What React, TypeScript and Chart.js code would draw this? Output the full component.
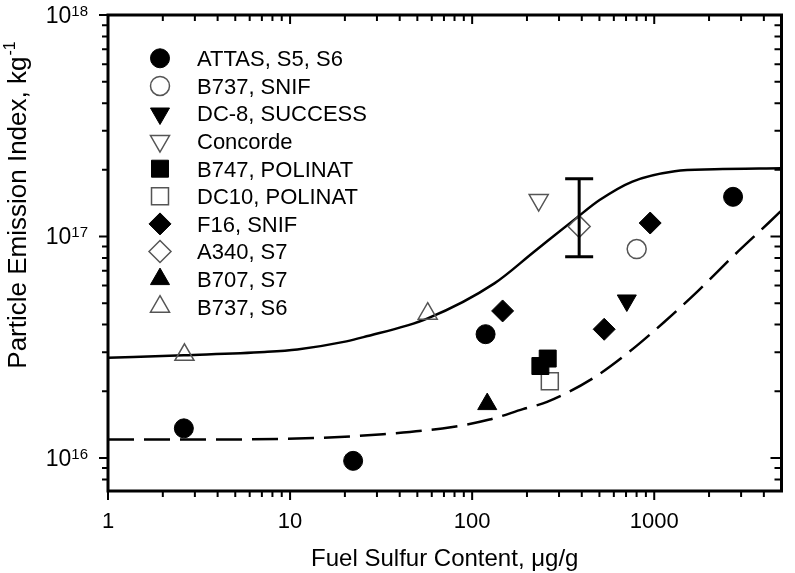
import React, { useEffect, useRef } from 'react';
import { Chart, registerables } from 'chart.js';

Chart.register(...registerables);

// ---------------- data ----------------
const attasX = [2.61, 22.2, 118.5, 2710];
const attasY = [1.36e16, 9.7e15, 3.62e16, 1.51e17];
const b737SnifX = [801];
const b737SnifY = [8.77e16];
const dc8X = [707];
const dc8Y = [5.14e16];
const concordeX = [232];
const concordeY = [1.46e17];
const b747X = [237, 260];
const b747Y = [2.6e16, 2.81e16];
const dc10X = [267];
const dc10Y = [2.22e16];
const f16X = [147, 531, 950];
const f16Y = [4.61e16, 3.81e16, 1.15e17];
const a340X = [387];
const a340Y = [1.11e17];
const a340ErrLow = [8.1e16];
const a340ErrHigh = [1.82e17];
const b707X = [121];
const b707Y = [1.75e16];
const b737S6X = [2.63, 57];
const b737S6Y = [2.92e16, 4.48e16];

const upperCurveX = [1, 2.61, 7.25, 10.96, 20.4, 25.3, 57, 132.5, 218, 373, 501, 759, 1296, 2143, 5000];
const upperCurveY = [2.83e16, 2.91e16, 3.01e16, 3.09e16, 3.36e16, 3.51e16, 4.27e16, 6.14e16, 8.51e16, 1.21e17, 1.46e17, 1.77e17, 1.97e17, 2.01e17, 2.03e17];
const lowerCurveX = [1, 3, 13.5, 32.4, 78, 124.5, 190, 258, 461, 728, 1127, 1742, 2754, 4240, 5000];
const lowerCurveY = [1.21e16, 1.21e16, 1.23e16, 1.28e16, 1.38e16, 1.49e16, 1.66e16, 1.79e16, 2.29e16, 3.01e16, 4.09e16, 5.68e16, 8.24e16, 1.15e17, 1.31e17];

const seriesLabels = [
  'ATTAS, S5, S6',
  'B737, SNIF',
  'DC-8, SUCCESS',
  'Concorde',
  'B747, POLINAT',
  'DC10, POLINAT',
  'F16, SNIF',
  'A340, S7',
  'B707, S7',
  'B737, S6',
];
const seriesXs = [attasX, b737SnifX, dc8X, concordeX, b747X, dc10X, f16X, a340X, b707X, b737S6X];
const seriesYs = [attasY, b737SnifY, dc8Y, concordeY, b747Y, dc10Y, f16Y, a340Y, b707Y, b737S6Y];

const xTickValues = [1, 10, 100, 1000];
const xTickLabels = ['1', '10', '100', '1000'];
const yTickValues = [1e16, 1e17, 1e18];
const yTickBase = '10';
const yTickExponents = ['16', '17', '18'];
const xTitle = 'Fuel Sulfur Content, \u03bcg/g';
const yTitleMain = 'Particle Emission Index, kg';
const yTitleSup = '-1';

const X_MIN = 1;
const X_MAX = 5000;
const Y_MIN = 7.09e15;
const Y_MAX = 1e18;

// ---------------- styles ----------------
const FONT = "'Liberation Sans', Arial, Helvetica, sans-serif";
const OPEN_COLOR = '#555555';

type Mk = { style: 'circle' | 'triangle' | 'rect' | 'rectRot'; rot: number; filled: boolean; r: number };
const markerStyles: Mk[] = [
  { style: 'circle', rot: 0, filled: true, r: 9.5 },
  { style: 'circle', rot: 0, filled: false, r: 9.5 },
  { style: 'triangle', rot: 180, filled: true, r: 11 },
  { style: 'triangle', rot: 180, filled: false, r: 11 },
  { style: 'rect', rot: 0, filled: true, r: 12 },
  { style: 'rect', rot: 0, filled: false, r: 12 },
  { style: 'rectRot', rot: 0, filled: true, r: 11 },
  { style: 'rectRot', rot: 0, filled: false, r: 11 },
  { style: 'triangle', rot: 0, filled: true, r: 11 },
  { style: 'triangle', rot: 0, filled: false, r: 11 },
];

function drawMarker(ctx: CanvasRenderingContext2D, m: Mk, x: number, y: number) {
  const r = m.r;
  let rad = (m.rot * Math.PI) / 180;
  ctx.beginPath();
  if (m.style === 'circle') {
    ctx.arc(x, y, r, 0, Math.PI * 2);
  } else if (m.style === 'triangle') {
    ctx.moveTo(x + Math.sin(rad) * r, y - Math.cos(rad) * r);
    rad += (2 * Math.PI) / 3;
    ctx.lineTo(x + Math.sin(rad) * r, y - Math.cos(rad) * r);
    rad += (2 * Math.PI) / 3;
    ctx.lineTo(x + Math.sin(rad) * r, y - Math.cos(rad) * r);
  } else if (m.style === 'rect') {
    const s = r * Math.SQRT1_2;
    ctx.rect(x - s, y - s, 2 * s, 2 * s);
  } else {
    ctx.moveTo(x - r, y);
    ctx.lineTo(x, y - r);
    ctx.lineTo(x + r, y);
    ctx.lineTo(x, y + r);
  }
  ctx.closePath();
  if (m.filled) {
    ctx.fillStyle = '#000';
    ctx.fill();
    ctx.strokeStyle = '#000';
    ctx.lineWidth = 1;
    ctx.stroke();
  } else {
    ctx.strokeStyle = OPEN_COLOR;
    ctx.lineWidth = 1.5;
    ctx.stroke();
  }
}

function minorTicks(min: number, max: number): number[] {
  const out: number[] = [];
  const d0 = Math.floor(Math.log10(min));
  const d1 = Math.ceil(Math.log10(max));
  for (let d = d0; d <= d1; d++) {
    for (let k = 2; k <= 9; k++) {
      const v = k * Math.pow(10, d);
      if (v > min * 1.0001 && v < max * 0.9999) out.push(v);
    }
  }
  return out;
}

const decoPlugin = {
  id: 'deco',
  afterDatasetsDraw(chart: any) {
    const { ctx, scales } = chart;
    const xs = scales.x;
    const ys = scales.y;
    ctx.save();
    // error bar
    ctx.strokeStyle = '#000';
    ctx.lineWidth = 3;
    for (let i = 0; i < a340X.length; i++) {
      const px = xs.getPixelForValue(a340X[i]);
      const pt = ys.getPixelForValue(a340ErrHigh[i]);
      const pb = ys.getPixelForValue(a340ErrLow[i]);
      ctx.beginPath();
      ctx.moveTo(px, pt);
      ctx.lineTo(px, pb);
      ctx.moveTo(px - 14, pt);
      ctx.lineTo(px + 14, pt);
      ctx.moveTo(px - 14, pb);
      ctx.lineTo(px + 14, pb);
      ctx.stroke();
    }
    ctx.restore();
  },
  afterDraw(chart: any) {
    const { ctx, chartArea: a, scales } = chart;
    const xs = scales.x;
    const ys = scales.y;
    ctx.save();
    ctx.strokeStyle = '#000';
    ctx.lineCap = 'butt';

    // ticks
    ctx.lineWidth = 2;
    ctx.beginPath();
    const xMinor = minorTicks(X_MIN, X_MAX);
    for (const v of xMinor) {
      const px = xs.getPixelForValue(v);
      ctx.moveTo(px, a.bottom);
      ctx.lineTo(px, a.bottom + 6);
      ctx.moveTo(px, a.top);
      ctx.lineTo(px, a.top + 6);
    }
    for (const v of xTickValues) {
      const px = xs.getPixelForValue(v);
      ctx.moveTo(px, a.bottom);
      ctx.lineTo(px, a.bottom + 9);
      ctx.moveTo(px, a.top);
      ctx.lineTo(px, a.top + 9);
    }
    const yMinor = minorTicks(Y_MIN, Y_MAX);
    for (const v of yMinor) {
      const py = ys.getPixelForValue(v);
      ctx.moveTo(a.left, py);
      ctx.lineTo(a.left - 6, py);
      ctx.moveTo(a.right, py);
      ctx.lineTo(a.right - 7, py);
    }
    for (const v of yTickValues) {
      const py = ys.getPixelForValue(v);
      ctx.moveTo(a.left, py);
      ctx.lineTo(a.left - 9, py);
      ctx.moveTo(a.right, py);
      ctx.lineTo(a.right - 11, py);
    }
    ctx.stroke();

    // frame
    ctx.lineWidth = 3;
    ctx.strokeRect(a.left, a.top, a.right - a.left, a.bottom - a.top);

    // x tick labels
    ctx.fillStyle = '#000';
    ctx.font = `22px ${FONT}`;
    ctx.textAlign = 'center';
    ctx.textBaseline = 'alphabetic';
    xTickValues.forEach((v, i) => {
      ctx.fillText(xTickLabels[i], xs.getPixelForValue(v), a.bottom + 37);
    });

    // y tick labels with superscript
    yTickValues.forEach((v, i) => {
      const py = ys.getPixelForValue(v);
      ctx.textAlign = 'right';
      ctx.font = `15px ${FONT}`;
      const supW = ctx.measureText(yTickExponents[i]).width;
      ctx.fillText(yTickExponents[i], 88, py + 0.6);
      ctx.font = `23px ${FONT}`;
      ctx.fillText(yTickBase, 88 - supW, py + 8);
    });

    // x title
    ctx.font = `24px ${FONT}`;
    ctx.textAlign = 'center';
    ctx.fillText(xTitle, (a.left + a.right) / 2, 566);

    // y title
    ctx.save();
    ctx.translate(26, 205);
    ctx.rotate(-Math.PI / 2);
    ctx.font = `26px ${FONT}`;
    const w1 = ctx.measureText(yTitleMain).width;
    ctx.font = `16px ${FONT}`;
    const w2 = ctx.measureText(yTitleSup).width;
    const start = -(w1 + w2 + 1) / 2;
    ctx.textAlign = 'left';
    ctx.font = `26px ${FONT}`;
    ctx.fillText(yTitleMain, start, 0);
    ctx.font = `16px ${FONT}`;
    ctx.fillText(yTitleSup, start + w1 + 1, -11);
    ctx.restore();

    // legend
    ctx.font = `22px ${FONT}`;
    ctx.textAlign = 'left';
    seriesLabels.forEach((lab, i) => {
      const cy = 58.3 + i * 27.6;
      drawMarker(ctx, markerStyles[i], 160, cy);
      ctx.fillStyle = '#000';
      ctx.fillText(lab, 197, cy + 7.9);
    });

    ctx.restore();
  },
};

export default function App() {
  const ref = useRef<HTMLCanvasElement | null>(null);

  useEffect(() => {
    document.body.style.margin = '0';
    const canvas = ref.current;
    if (!canvas) return;

    const curveDatasets: any[] = [
      {
        type: 'line',
        label: 'upper',
        data: upperCurveX.map((x, i) => ({ x, y: upperCurveY[i] })),
        borderColor: '#000',
        borderWidth: 2.5,
        pointRadius: 0,
        fill: false,
        cubicInterpolationMode: 'monotone',
        order: 5,
      },
      {
        type: 'line',
        label: 'lower',
        data: lowerCurveX.map((x, i) => ({ x, y: lowerCurveY[i] })),
        borderColor: '#000',
        borderWidth: 2.5,
        borderDash: [26, 10],
        pointRadius: 0,
        fill: false,
        cubicInterpolationMode: 'monotone',
        order: 5,
      },
    ];

    const pointDatasets: any[] = seriesLabels.map((lab, i) => {
      const m = markerStyles[i];
      return {
        type: 'scatter',
        label: lab,
        data: seriesXs[i].map((x, j) => ({ x, y: seriesYs[i][j] })),
        pointStyle: m.style,
        pointRotation: m.rot,
        pointRadius: m.r,
        pointHoverRadius: m.r,
        backgroundColor: m.filled ? '#000' : 'rgba(0,0,0,0)',
        borderColor: m.filled ? '#000' : OPEN_COLOR,
        borderWidth: m.filled ? 1 : 1.5,
        showLine: false,
        order: 1,
      };
    });

    const chart = new Chart(canvas, {
      type: 'scatter',
      data: { datasets: [...curveDatasets, ...pointDatasets] },
      options: {
        animation: false,
        responsive: false,
        devicePixelRatio: 1,
        events: [],
        layout: { padding: { left: 108, right: 3, top: 15, bottom: 82 } },
        plugins: { legend: { display: false }, tooltip: { enabled: false } },
        scales: {
          x: { type: 'logarithmic', min: X_MIN, max: X_MAX, display: false },
          y: { type: 'logarithmic', min: Y_MIN, max: Y_MAX, display: false },
        },
      } as any,
      plugins: [decoPlugin],
    });

    return () => chart.destroy();
  }, []);

  return (
    <div style={{ position: 'absolute', left: 0, top: 0, width: 795, height: 573, background: '#fff' }}>
      <canvas ref={ref} width={795} height={573} style={{ display: 'block' }} />
    </div>
  );
}
